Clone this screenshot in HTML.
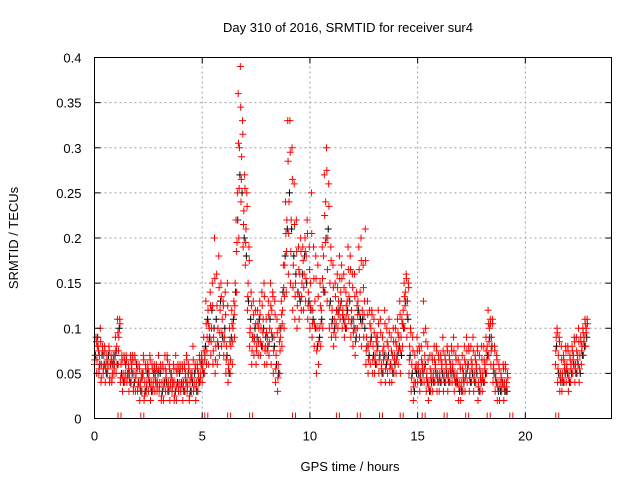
<!DOCTYPE html>
<html><head><meta charset="utf-8"><style>
body{margin:0;background:#fff}
svg{display:block;font-family:"Liberation Sans",sans-serif}
</style></head><body>
<svg id="chart" width="640" height="480" viewBox="0 0 640 480" xmlns="http://www.w3.org/2000/svg">
<rect width="640" height="480" fill="#fff"/>
<text x="348" y="32" font-size="13" text-anchor="middle">Day 310 of 2016, SRMTID for receiver sur4</text>
<text x="350" y="471" font-size="13" text-anchor="middle">GPS time / hours</text>
<text x="18" y="238" font-size="13" text-anchor="middle" transform="rotate(-90 18 238)">SRMTID / TECUs</text>
<g id="grid"></g><g id="marks"></g><g id="axes"></g>
</svg>
<script>
const xTicks=[0,5,10,15,20];
const yTicks=[0,0.05,0.1,0.15,0.2,0.25,0.3,0.35,0.4];
const yTickLabels=["0","0.05","0.1","0.15","0.2","0.25","0.3","0.35","0.4"];
const times=[0,0.1,0.2,0.3,0.4,0.5,0.6,0.7,0.8,0.9,1,1.1,1.2,1.3,1.4,1.5,1.6,1.7,1.8,1.9,2,2.1,2.2,2.3,2.4,2.5,2.6,2.7,2.8,2.9,3,3.1,3.2,3.3,3.4,3.5,3.6,3.7,3.8,3.9,4,4.1,4.2,4.3,4.4,4.5,4.6,4.7,4.8,4.9,5,5.1,5.2,5.3,5.4,5.5,5.6,5.7,5.8,5.9,6,6.1,6.2,6.3,6.4,6.5,6.6,6.7,6.8,6.9,7,7.1,7.2,7.3,7.4,7.5,7.6,7.7,7.8,7.9,8,8.1,8.2,8.3,8.4,8.5,8.6,8.7,8.8,8.9,9,9.1,9.2,9.3,9.4,9.5,9.6,9.7,9.8,9.9,10,10.1,10.2,10.3,10.4,10.5,10.6,10.7,10.8,10.9,11,11.1,11.2,11.3,11.4,11.5,11.6,11.7,11.8,11.9,12,12.1,12.2,12.3,12.4,12.5,12.6,12.7,12.8,12.9,13,13.1,13.2,13.3,13.4,13.5,13.6,13.7,13.8,13.9,14,14.1,14.2,14.3,14.4,14.5,14.6,14.7,14.8,14.9,15,15.1,15.2,15.3,15.4,15.5,15.6,15.7,15.8,15.9,16,16.1,16.2,16.3,16.4,16.5,16.6,16.7,16.8,16.9,17,17.1,17.2,17.3,17.4,17.5,17.6,17.7,17.8,17.9,18,18.1,18.2,18.3,18.4,18.5,18.6,18.7,18.8,18.9,19,19.1,21.4,21.5,21.6,21.7,21.8,21.9,22,22.1,22.2,22.3,22.4,22.5,22.6,22.7,22.8];
const redLow=[.06,.05,.05,.04,.05,.04,.05,.04,.04,.05,.05,.06,.04,.03,.04,.04,.03,.04,.03,.03,.03,.02,.03,.02,.03,.03,.02,.03,.03,.03,.03,.02,.02,.03,.03,.02,.03,.02,.02,.03,.03,.02,.03,.03,.02,.03,.03,.02,.03,.04,.04,.05,.06,.06,.07,.06,.05,.06,.07,.08,.07,.05,.04,.05,.06,.09,.14,.20,.24,.19,.17,.12,.08,.06,.07,.06,.07,.07,.08,.06,.06,.07,.06,.05,.04,.03,.05,.08,.10,.14,.16,.15,.12,.11,.10,.11,.12,.12,.13,.11,.10,.09,.08,.05,.06,.08,.10,.14,.13,.10,.09,.08,.09,.10,.11,.10,.09,.10,.11,.09,.08,.07,.10,.09,.08,.09,.06,.05,.06,.05,.05,.06,.05,.04,.05,.04,.05,.04,.04,.05,.05,.06,.05,.08,.10,.09,.05,.03,.02,.04,.04,.03,.04,.04,.03,.02,.03,.03,.04,.03,.03,.04,.03,.04,.03,.04,.04,.03,.04,.02,.02,.03,.03,.04,.03,.04,.03,.04,.02,.03,.03,.04,.05,.07,.06,.04,.03,.02,.02,.03,.02,.03,.06,.04,.03,.03,.04,.04,.03,.04,.05,.04,.05,.04,.06,.07,.08];
const redQ1=[.065,.065,.055,.045,.055,.055,.055,.045,.045,.055,.075,.075,.045,.045,.045,.045,.045,.055,.035,.045,.035,.035,.045,.025,.035,.045,.035,.035,.045,.035,.035,.025,.035,.045,.035,.035,.035,.025,.035,.035,.035,.035,.045,.035,.025,.045,.035,.035,.045,.045,.055,.065,.075,.085,.085,.075,.065,.085,.095,.095,.085,.065,.055,.065,.085,.125,.195,.255,.265,.215,.195,.135,.095,.075,.085,.075,.085,.085,.095,.075,.075,.085,.095,.075,.055,.045,.075,.105,.135,.185,.205,.185,.145,.135,.125,.135,.135,.145,.155,.125,.125,.105,.105,.075,.085,.105,.145,.195,.165,.125,.105,.095,.105,.115,.125,.115,.105,.115,.135,.105,.095,.085,.115,.115,.105,.115,.075,.065,.085,.065,.065,.075,.065,.055,.065,.055,.065,.055,.055,.065,.065,.075,.075,.105,.125,.115,.065,.045,.035,.055,.055,.045,.055,.055,.045,.035,.045,.045,.055,.045,.045,.055,.045,.055,.045,.055,.055,.045,.045,.035,.035,.045,.045,.055,.045,.055,.045,.055,.035,.045,.045,.055,.065,.085,.075,.055,.045,.035,.035,.035,.035,.035,.075,.055,.045,.045,.055,.055,.045,.055,.065,.055,.065,.055,.075,.085,.095];
const redMid=[.07,.08,.07,.06,.07,.06,.06,.06,.05,.06,.08,.09,.06,.05,.05,.05,.05,.06,.05,.05,.04,.04,.05,.04,.04,.05,.04,.04,.05,.04,.04,.04,.04,.05,.04,.04,.04,.04,.05,.04,.04,.04,.05,.04,.04,.05,.04,.04,.05,.05,.06,.07,.09,.10,.10,.09,.08,.10,.12,.11,.09,.08,.06,.08,.10,.15,.25,.30,.29,.23,.21,.15,.10,.09,.09,.08,.10,.10,.11,.08,.09,.10,.12,.09,.07,.06,.09,.12,.17,.22,.24,.22,.17,.15,.14,.16,.15,.16,.18,.14,.15,.12,.13,.10,.10,.12,.18,.24,.20,.15,.12,.11,.12,.13,.14,.12,.11,.13,.15,.12,.11,.10,.13,.14,.12,.13,.09,.08,.10,.08,.07,.09,.07,.06,.08,.07,.08,.06,.07,.07,.08,.09,.09,.12,.14,.13,.08,.06,.04,.06,.06,.05,.06,.07,.05,.04,.05,.05,.06,.05,.05,.06,.05,.06,.05,.06,.06,.05,.05,.04,.04,.05,.06,.06,.05,.06,.05,.06,.04,.05,.05,.06,.08,.10,.09,.06,.05,.04,.04,.04,.04,.04,.09,.07,.05,.05,.06,.06,.05,.06,.07,.06,.07,.07,.08,.09,.10];
const redQ3=[.085,.075,.085,.075,.075,.065,.075,.065,.065,.075,.095,.105,.065,.065,.065,.055,.065,.065,.065,.055,.055,.045,.065,.055,.055,.065,.055,.055,.055,.055,.055,.055,.055,.065,.055,.045,.055,.055,.055,.055,.055,.055,.065,.055,.045,.065,.055,.055,.065,.065,.075,.105,.105,.125,.125,.155,.125,.145,.135,.125,.115,.125,.085,.105,.115,.185,.305,.345,.315,.255,.235,.175,.125,.115,.105,.105,.115,.125,.135,.095,.115,.125,.135,.115,.095,.085,.115,.145,.205,.285,.295,.265,.215,.185,.165,.185,.175,.185,.205,.165,.205,.155,.155,.135,.125,.155,.225,.275,.235,.175,.145,.135,.145,.155,.155,.145,.125,.165,.165,.145,.135,.125,.165,.175,.145,.175,.115,.105,.115,.095,.085,.105,.095,.075,.105,.085,.095,.075,.085,.085,.095,.115,.105,.135,.155,.145,.095,.075,.055,.075,.075,.065,.095,.085,.065,.055,.065,.065,.075,.065,.065,.075,.065,.075,.065,.075,.075,.065,.065,.055,.055,.065,.075,.075,.065,.075,.065,.075,.055,.065,.065,.075,.105,.105,.105,.075,.065,.055,.045,.055,.055,.045,.095,.085,.065,.065,.075,.075,.065,.075,.085,.075,.085,.085,.095,.105,.105];
const redHigh=[.09,.08,.10,.08,.08,.07,.08,.07,.07,.09,.11,.11,.07,.07,.07,.06,.07,.07,.07,.06,.06,.05,.07,.06,.06,.07,.06,.06,.06,.07,.06,.06,.07,.07,.06,.05,.06,.07,.06,.06,.06,.06,.07,.06,.05,.08,.06,.06,.07,.07,.09,.13,.12,.14,.15,.20,.16,.18,.15,.13,.14,.15,.10,.12,.13,.22,.36,.39,.33,.27,.25,.19,.14,.13,.12,.12,.13,.14,.15,.11,.13,.15,.14,.13,.11,.10,.13,.17,.24,.33,.33,.30,.26,.22,.19,.20,.19,.20,.22,.19,.25,.19,.18,.17,.15,.19,.27,.30,.26,.19,.17,.15,.16,.18,.17,.16,.14,.19,.18,.16,.16,.14,.19,.20,.17,.21,.13,.12,.12,.11,.09,.12,.11,.09,.12,.10,.11,.09,.10,.10,.11,.13,.11,.15,.16,.15,.10,.09,.07,.09,.08,.08,.13,.10,.08,.07,.07,.08,.08,.07,.07,.09,.07,.08,.07,.08,.09,.07,.08,.06,.07,.08,.09,.08,.08,.09,.07,.08,.07,.08,.08,.09,.12,.11,.11,.08,.07,.06,.05,.06,.06,.05,.10,.09,.08,.07,.08,.08,.07,.08,.09,.09,.10,.09,.10,.11,.11];
const blackVals=[.07,.09,.06,.07,.06,.05,.07,.06,.06,.07,.06,.10,.05,.04,.06,.05,.04,.05,.04,.06,.04,.03,.05,.03,.05,.04,.03,.05,.04,.05,.05,.03,.04,.04,.03,.05,.04,.03,.04,.05,.04,.03,.04,.05,.03,.04,.05,.03,.04,.06,.05,.08,.11,.09,.12,.10,.11,.08,.13,.09,.10,.07,.05,.09,.11,.14,.22,.27,.25,.20,.18,.13,.11,.09,.10,.09,.11,.08,.10,.09,.08,.11,.09,.08,.06,.05,.10,.14,.18,.21,.25,.21,.18,.16,.14,.13,.16,.18,.15,.13,.12,.11,.10,.08,.09,.11,.14,.20,.21,.13,.11,.10,.12,.12,.13,.11,.10,.12,.13,.11,.10,.09,.12,.11,.11,.10,.08,.07,.09,.07,.06,.08,.07,.05,.07,.06,.07,.06,.05,.06,.07,.08,.07,.10,.13,.11,.07,.05,.03,.05,.05,.04,.05,.06,.04,.03,.04,.04,.05,.04,.04,.05,.04,.05,.04,.05,.05,.04,.04,.03,.03,.04,.05,.06,.04,.05,.04,.05,.03,.04,.04,.05,.07,.09,.08,.05,.04,.03,.03,.04,.03,.03,.08,.05,.04,.04,.05,.05,.04,.05,.06,.05,.06,.05,.07,.08,.09];
const zeroTimes=[1.16,2.22,5.19,6.25,7.27,9.26,11.3,12.27,13.3,14.26,15.28,16.3,17.3,18.3,19.35,21.48];

const X0=94.5,X1=611.5,Y0=418.5,Y1=57.5;
const sx=t=>X0+(t/24)*(X1-X0);
const sy=v=>Y0-(v/0.4)*(Y0-Y1);
const NS="http://www.w3.org/2000/svg";
const mk=(tag,attrs,parent)=>{const e=document.createElementNS(NS,tag);for(const k in attrs)e.setAttribute(k,attrs[k]);parent.appendChild(e);return e;};
const grid=document.getElementById('grid'),marks=document.getElementById('marks'),axes=document.getElementById('axes');
yTicks.forEach((v,i)=>{
  const y=sy(v);
  if(i>0&&i<yTicks.length-1){const g=mk('line',{x1:X0,x2:X1,y1:y,y2:y,stroke:'#a0a0a0','stroke-dasharray':'2,3'},grid);
  
  }
  const t1=mk('line',{x1:X0,x2:X0+6,y1:y,y2:y,stroke:'#000'},axes);
  
  
  const t2=mk('line',{x1:X1,x2:X1-6,y1:y,y2:y,stroke:'#000'},axes);
  
  
  const l=mk('text',{x:X0-13,y:y+5,'font-size':13,'text-anchor':'end'},axes);l.textContent=yTickLabels[i];
  
  
});
xTicks.forEach((t,i)=>{
  const x=sx(t);
  if(i>0){const g=mk('line',{x1:x,x2:x,y1:Y0,y2:Y1,stroke:'#a0a0a0','stroke-dasharray':'2,3'},grid);
  
  }
  const t1=mk('line',{x1:x,x2:x,y1:Y0,y2:Y0-6,stroke:'#000'},axes);
  
  
  const t2=mk('line',{x1:x,x2:x,y1:Y1,y2:Y1+6,stroke:'#000'},axes);
  
  
  const l=mk('text',{x:x,y:Y0+22,'font-size':13,'text-anchor':'middle'},axes);l.textContent=String(t);
  
  
});
const frame=mk('rect',{x:X0,y:Y1,width:X1-X0,height:Y0-Y1,fill:'none',stroke:'#000'},axes);


function cross(t,v,color){
  const x=sx(t),y=sy(v);
  const p=mk('path',{d:`M${x-3.5},${y}h7M${x},${y-3.5}v7`,stroke:color,'stroke-width':1,fill:'none'},marks);
  
  
}
times.forEach((t,i)=>{cross(t+0.05,blackVals[i],'#000');});
times.forEach((t,i)=>{
  cross(t,redLow[i],'#f00');
  cross(t+0.015,redQ1[i],'#f00');
  cross(t+0.03,redMid[i],'#f00');
  cross(t+0.085,redQ3[i],'#f00');
  cross(t+0.07,redHigh[i],'#f00');
});
zeroTimes.forEach(t=>{
  const x=sx(t);
  const p=mk('path',{d:`M${x-1.5},${Y0}v-6M${x+1.5},${Y0}v-6`,stroke:'#f00','stroke-width':1},marks);
  
  
});
</script>
</body></html>
